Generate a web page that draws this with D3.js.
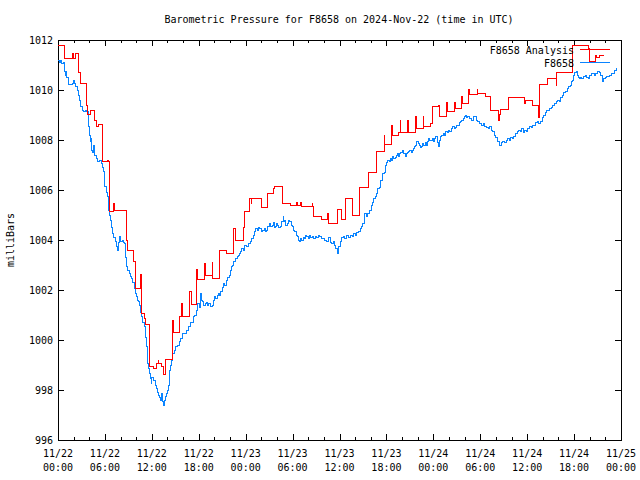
<!DOCTYPE html>
<html><head><meta charset="utf-8">
<script src="https://cdn.jsdelivr.net/npm/d3@7/dist/d3.min.js"></script>
<style>
body{margin:0;background:#fff}
text{font-family:"DejaVu Sans Mono","Liberation Mono",monospace;font-size:10px;fill:#000}
</style>
</head><body>
<svg id="chart" width="640" height="480"></svg>
<script>
const titleText = "Barometric Pressure for F8658 on 2024-Nov-22 (time in UTC)";
const yLabel = "milliBars";
const seriesNames = ["F8658 Analysis", "F8658"];
const yTickValues = [996, 998, 1000, 1002, 1004, 1006, 1008, 1010, 1012];
const xTickDates = ["11/22","11/22","11/22","11/22","11/23","11/23","11/23","11/23","11/24","11/24","11/24","11/24","11/25"];
const xTickTimes = ["00:00","06:00","12:00","18:00","00:00","06:00","12:00","18:00","00:00","06:00","12:00","18:00","00:00"];

// Analysis (red), hours since 2024-11-22 00:00 UTC
const redHours = [0.0,0.8,1.83,1.93,2.3,2.6,2.85,3.7,3.8,4.2,4.65,4.95,5.15,5.67,6.35,6.45,6.65,7.1,7.2,8.8,8.95,9.7,9.85,10.6,10.7,11.1,11.2,11.75,12.2,12.65,12.8,12.9,13.25,13.45,13.8,14.6,14.7,14.8,15.6,15.8,15.9,16.8,17.1,17.7,17.8,18.7,18.8,19.7,19.8,20.7,21.5,22.4,22.7,23.7,23.9,24.5,24.7,24.8,26.0,26.8,27.6,27.7,28.7,29.75,30.5,30.6,31.0,31.1,32.5,32.6,32.7,33.7,34.5,34.6,35.7,36.2,36.8,37.6,38.6,39.7,40.75,41.7,41.8,42.7,42.8,43.6,43.75,43.85,44.7,44.8,45.7,45.8,46.7,46.8,47.6,47.9,48.7,48.8,49.7,49.8,50.75,50.85,51.65,51.75,52.55,52.65,53.6,53.7,54.7,55.25,56.3,56.4,56.65,57.6,59.7,59.8,60.7,61.5,61.6,62.6,63.7,63.8,65.8,67.9,68.0,68.8,68.9,69.2,69.8];
const redValues = [1011.77,1011.27,1011.47,1011.27,1011.47,1010.72,1010.27,1009.4,1009.04,1009.17,1008.8,1008.56,1008.63,1007.13,1007.2,1007.13,1005.13,1005.47,1005.17,1004.0,1003.6,1003.13,1002.07,1002.63,1001.07,1000.87,1000.64,998.93,998.87,999.07,999.2,999.07,998.95,998.64,999.23,1000.0,1000.8,1000.3,1000.96,1001.47,1000.96,1001.96,1001.44,1002.84,1002.44,1003.07,1002.6,1003.1,1002.47,1003.6,1003.47,1004.47,1004.0,1004.5,1005.13,1005.67,1005.45,1005.67,1005.3,1005.87,1006.07,1006.16,1005.47,1005.4,1005.5,1005.4,1005.5,1005.33,1005.47,1005.33,1004.93,1004.84,1005.05,1004.67,1005.23,1004.83,1005.67,1005.0,1006.1,1006.7,1007.53,1008.2,1007.83,1008.6,1008.17,1008.3,1008.77,1008.3,1008.77,1008.3,1008.93,1008.47,1008.93,1008.53,1008.67,1009.33,1009.4,1008.93,1009.5,1009.16,1009.5,1009.27,1009.73,1009.47,1010.04,1009.83,1010.04,1009.87,1009.73,1009.2,1008.8,1009.03,1009.24,1009.71,1009.47,1009.6,1009.4,1008.9,1010.23,1010.47,1010.2,1010.7,1011.8,1011.67,1011.16,1011.37,1011.3,1011.37,1011.37];

// Station observations (blue)
const blueHours = [0.0,0.2,0.35,0.5,0.65,0.8,0.9,1.0,1.1,1.3,1.6,1.8,2.0,2.1,2.3,2.45,2.6,2.75,2.9,3.1,3.3,3.5,3.65,3.85,4.0,4.1,4.2,4.3,4.45,4.55,4.65,4.9,5.1,5.3,5.5,5.65,5.8,5.9,6.0,6.15,6.3,6.4,6.5,6.6,6.7,6.85,7.0,7.15,7.3,7.45,7.6,7.75,7.9,8.05,8.25,8.4,8.5,8.65,8.8,8.95,9.1,9.25,9.4,9.55,9.75,9.9,10.0,10.15,10.3,10.4,10.5,10.6,10.7,10.85,11.0,11.15,11.3,11.4,11.5,11.6,11.7,11.8,11.9,12.0,12.15,12.3,12.45,12.6,12.75,12.85,13.0,13.1,13.2,13.3,13.4,13.5,13.6,13.7,13.8,13.9,14.0,14.1,14.2,14.3,14.4,14.5,14.6,14.7,14.85,15.0,15.15,15.3,15.5,15.65,15.9,16.0,16.4,16.7,17.0,17.3,17.5,17.7,17.9,18.1,18.2,18.3,18.5,18.65,18.8,19.0,19.15,19.3,19.5,19.7,19.85,20.0,20.2,20.35,20.5,20.65,20.8,21.0,21.2,21.35,21.5,21.7,21.9,22.05,22.2,22.35,22.5,22.7,22.9,23.05,23.2,23.35,23.5,23.7,23.9,24.1,24.4,24.6,24.8,24.95,25.1,25.3,25.45,25.6,25.8,26.0,26.2,26.4,26.55,26.7,26.85,27.0,27.2,27.4,27.55,27.7,27.8,27.95,28.1,28.25,28.4,28.6,28.8,28.9,29.0,29.15,29.3,29.45,29.6,29.8,30.0,30.15,30.3,30.45,30.6,30.75,30.9,31.05,31.2,31.35,31.5,31.65,31.8,32.0,32.2,32.35,32.5,32.7,32.9,33.1,33.3,33.5,33.7,33.9,34.1,34.3,34.5,34.6,34.8,35.0,35.2,35.4,35.55,35.7,35.85,36.1,36.3,36.5,36.7,36.9,37.1,37.4,37.6,37.8,38.0,38.2,38.45,38.7,38.85,39.0,39.2,39.4,39.6,39.9,40.1,40.25,40.4,40.55,40.7,40.9,41.1,41.3,41.5,41.7,41.9,42.05,42.2,42.35,42.5,42.65,42.8,42.95,43.1,43.25,43.4,43.55,43.7,43.85,44.0,44.2,44.4,44.55,44.7,44.85,45.0,45.15,45.3,45.45,45.6,45.75,45.9,46.05,46.2,46.35,46.5,46.65,46.8,46.95,47.1,47.25,47.4,47.55,47.7,47.85,48.0,48.15,48.3,48.5,48.7,48.8,48.9,49.1,49.3,49.45,49.6,49.75,49.9,50.05,50.2,50.35,50.5,50.65,50.8,50.95,51.1,51.3,51.5,51.65,51.8,51.95,52.1,52.25,52.4,52.6,52.9,53.1,53.3,53.5,53.7,53.9,54.2,54.4,54.6,54.8,55.0,55.2,55.4,55.6,55.8,56.0,56.2,56.4,56.5,56.7,56.9,57.1,57.3,57.5,57.7,57.9,58.1,58.3,58.5,58.7,58.9,59.1,59.3,59.5,59.7,59.9,60.1,60.3,60.5,60.7,60.9,61.1,61.3,61.5,61.7,61.9,62.1,62.3,62.5,62.7,62.9,63.1,63.3,63.5,63.7,63.9,64.1,64.3,64.5,64.7,64.9,65.1,65.3,65.5,65.65,65.8,65.95,66.1,66.25,66.4,66.55,66.7,66.85,67.0,67.2,67.4,67.6,67.8,68.0,68.2,68.4,68.6,68.8,69.0,69.2,69.4,69.6,69.8,70.0,70.2,70.5,70.8,71.0,71.2,71.4];
const blueValues = [1011.2,1011.1,1011.2,1011.07,1011.1,1010.75,1010.6,1010.75,1010.5,1010.23,1010.23,1010.27,1010.4,1010.25,1010.13,1010.0,1009.8,1009.6,1009.33,1009.2,1009.13,1009.2,1009.13,1008.53,1008.2,1007.95,1008.05,1007.6,1007.5,1007.8,1007.4,1007.25,1007.13,1007.2,1007.07,1006.9,1006.73,1006.4,1006.13,1005.9,1005.73,1005.5,1005.2,1005.0,1004.8,1004.5,1004.27,1004.1,1003.93,1003.75,1003.6,1003.9,1004.13,1003.95,1004.0,1003.9,1003.87,1003.3,1002.93,1002.8,1002.67,1002.55,1002.47,1002.3,1002.07,1001.85,1001.73,1001.6,1001.53,1001.4,1001.33,1001.1,1000.93,1000.7,1000.53,1000.1,999.73,999.35,999.07,998.85,998.67,998.45,998.27,998.5,998.4,998.4,998.2,998.07,997.9,997.8,997.7,997.6,997.75,997.87,997.55,997.4,997.6,997.6,997.75,997.87,998.0,998.2,998.5,998.8,999.0,999.2,999.35,999.47,999.6,999.73,999.75,999.8,999.95,1000.07,1000.25,1000.27,1000.4,1000.53,1000.7,1000.93,1001.0,1001.2,1001.47,1001.3,1001.87,1001.6,1001.53,1001.4,1001.47,1001.5,1001.4,1001.47,1001.35,1001.4,1001.6,1001.73,1001.65,1001.8,1001.87,1001.8,1001.93,1002.1,1002.27,1002.2,1002.4,1002.5,1002.6,1002.8,1002.93,1003.0,1003.13,1003.25,1003.33,1003.4,1003.47,1003.55,1003.67,1003.6,1003.77,1003.75,1003.87,1003.95,1004.07,1004.2,1004.33,1004.47,1004.4,1004.5,1004.47,1004.35,1004.4,1004.45,1004.35,1004.4,1004.55,1004.67,1004.55,1004.6,1004.7,1004.5,1004.53,1004.65,1004.6,1004.5,1004.53,1004.75,1004.93,1004.75,1004.8,1004.6,1004.67,1004.8,1004.73,1004.6,1004.53,1004.4,1004.33,1004.2,1004.13,1004.0,1003.93,1004.05,1004.0,1004.1,1004.07,1004.2,1004.13,1004.05,1004.2,1004.1,1004.15,1004.05,1004.15,1004.1,1004.2,1004.15,1004.05,1004.07,1004.0,1003.93,1003.95,1004.1,1003.9,1003.87,1003.95,1003.8,1003.65,1003.47,1003.75,1003.93,1004.1,1004.13,1004.05,1004.2,1004.1,1004.2,1004.15,1004.27,1004.2,1004.3,1004.35,1004.47,1004.55,1004.67,1005.07,1004.95,1005.07,1005.2,1005.4,1005.5,1005.67,1005.75,1005.87,1006.07,1006.1,1006.4,1006.67,1006.7,1007.0,1007.1,1007.2,1007.15,1007.27,1007.2,1007.33,1007.25,1007.3,1007.4,1007.47,1007.35,1007.45,1007.5,1007.6,1007.45,1007.33,1007.45,1007.5,1007.55,1007.6,1007.5,1007.6,1007.65,1007.73,1007.8,1007.93,1007.85,1007.8,1007.7,1007.75,1007.85,1007.8,1007.9,1007.8,1007.95,1008.07,1008.0,1008.0,1008.05,1007.95,1008.05,1008.13,1007.9,1007.73,1008.0,1008.13,1008.2,1008.27,1008.2,1008.33,1008.3,1008.4,1008.35,1008.33,1008.45,1008.53,1008.45,1008.5,1008.6,1008.6,1008.7,1008.73,1008.8,1008.87,1008.95,1009.0,1008.9,1008.95,1008.87,1008.8,1008.95,1008.95,1008.8,1008.73,1008.65,1008.6,1008.65,1008.55,1008.5,1008.47,1008.55,1008.4,1008.35,1008.2,1008.1,1007.95,1007.85,1007.8,1007.9,1007.95,1007.9,1008.0,1008.05,1008.0,1008.1,1008.05,1008.15,1008.25,1008.33,1008.4,1008.35,1008.45,1008.3,1008.4,1008.35,1008.45,1008.55,1008.5,1008.6,1008.6,1008.7,1008.73,1008.65,1008.75,1008.9,1009.0,1009.1,1009.2,1009.2,1009.25,1009.3,1009.4,1009.45,1009.53,1009.6,1009.55,1009.7,1009.8,1009.9,1009.95,1010.07,1010.15,1010.2,1010.35,1010.4,1010.6,1010.7,1010.73,1010.6,1010.5,1010.45,1010.5,1010.45,1010.55,1010.6,1010.5,1010.45,1010.6,1010.65,1010.67,1010.6,1010.65,1010.73,1010.7,1010.6,1010.35,1010.45,1010.5,1010.55,1010.6,1010.65,1010.67,1010.8,1010.87];

const colors = {analysis: "#ff0000", station: "#0a84ff"};

const svg = d3.select("#chart");
const L = 58, R = 621, T = 40, B = 440;
const start = Date.UTC(2024, 10, 22);
const H = 3600 * 1000;
const x = d3.scaleUtc().domain([new Date(start), new Date(start + 72 * H)]).range([L, R]);
const y = d3.scaleLinear().domain([996, 1012]).range([B, T]);

const toPts = (hs, vs) => hs.map((h, i) => ({t: new Date(start + h * H), v: vs[i]}));
const red = toPts(redHours, redValues);
const blue = toPts(blueHours, blueValues);

svg.append("clipPath").attr("id", "clip").append("rect")
  .attr("x", L).attr("y", T).attr("width", R - L).attr("height", B - T);

const majorX = d3.range(0, 73, 6).map(h => new Date(start + h * H));
const minorX = d3.range(0, 73, 2).filter(h => h % 6 !== 0).map(h => new Date(start + h * H));

const axes = svg.append("g").attr("shape-rendering", "crispEdges");
axes.append("g").attr("transform", `translate(0,${B})`)
  .call(d3.axisBottom(x).tickValues(majorX).tickSize(-6).tickFormat(""))
  .call(g => g.select(".domain").remove());
axes.append("g").attr("transform", `translate(0,${B})`)
  .call(d3.axisBottom(x).tickValues(minorX).tickSize(-3).tickFormat(""))
  .call(g => g.select(".domain").remove());
axes.append("g").attr("transform", `translate(0,${T})`)
  .call(d3.axisTop(x).tickValues(majorX).tickSize(-6).tickFormat(""))
  .call(g => g.select(".domain").remove());
axes.append("g").attr("transform", `translate(0,${T})`)
  .call(d3.axisTop(x).tickValues(minorX).tickSize(-3).tickFormat(""))
  .call(g => g.select(".domain").remove());
axes.append("g").attr("transform", `translate(${L},0)`)
  .call(d3.axisLeft(y).tickValues(yTickValues).tickSize(-6).tickFormat(""))
  .call(g => g.select(".domain").remove());
axes.append("g").attr("transform", `translate(${R},0)`)
  .call(d3.axisRight(y).tickValues(yTickValues).tickSize(-6).tickFormat(""))
  .call(g => g.select(".domain").remove());
axes.selectAll("line").attr("stroke", "#000");
axes.append("rect").attr("x", L).attr("y", T).attr("width", R - L).attr("height", B - T)
  .attr("fill", "none").attr("stroke", "#000");

svg.append("g").selectAll("text").data(yTickValues).join("text")
  .attr("x", L - 5).attr("y", d => y(d) + 4).attr("text-anchor", "end").text(d => d);
const xl = svg.append("g").selectAll("text").data(majorX).join("text")
  .attr("text-anchor", "middle");
xl.append("tspan").attr("x", d => x(d)).attr("y", B + 17).text((d, i) => xTickDates[i]);
xl.append("tspan").attr("x", d => x(d)).attr("y", B + 31).text((d, i) => xTickTimes[i]);

svg.append("text").attr("x", 339).attr("y", 23).attr("text-anchor", "middle").text(titleText);
svg.append("text").attr("transform", "translate(14,240) rotate(-90)")
  .attr("text-anchor", "middle").text(yLabel);

const line = d3.line().x(d => x(d.t)).y(d => y(d.v)).curve(d3.curveStepAfter);
const plot = svg.append("g").attr("clip-path", "url(#clip)").attr("shape-rendering", "crispEdges");
plot.append("path").datum(blue).attr("d", line).attr("fill", "none")
  .attr("stroke", colors.station).attr("stroke-width", 1);
plot.append("path").datum(red).attr("d", line).attr("fill", "none")
  .attr("stroke", colors.analysis).attr("stroke-width", 1);

const legend = svg.append("g").attr("shape-rendering", "crispEdges");
const legY = [49.5, 62.5];
const legC = [colors.analysis, colors.station];
seriesNames.forEach((n, i) => {
  legend.append("text").attr("x", 574).attr("y", legY[i] + 4).attr("text-anchor", "end").text(n);
  legend.append("line").attr("x1", 580).attr("x2", 610).attr("y1", legY[i]).attr("y2", legY[i])
    .attr("stroke", legC[i]).attr("stroke-width", 1);
});
</script>
</body></html>
